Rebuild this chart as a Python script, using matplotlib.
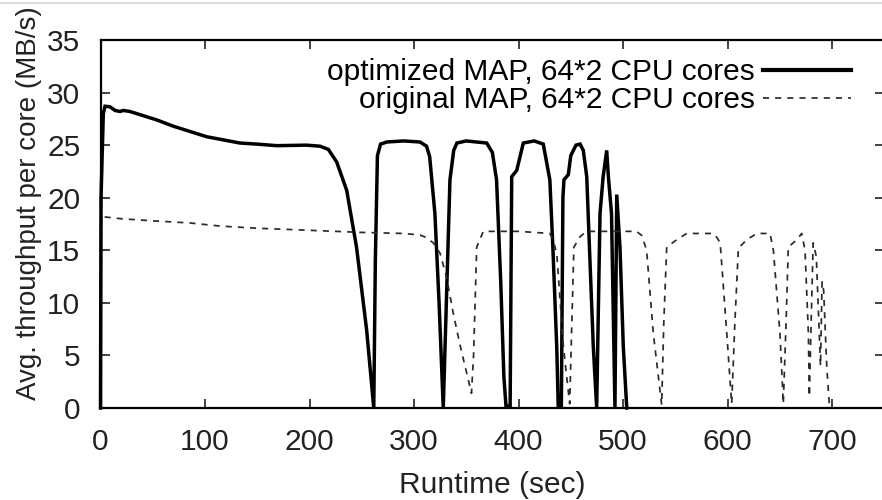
import matplotlib
matplotlib.use("Agg")
import matplotlib.pyplot as plt
from matplotlib.lines import Line2D

plt.rcParams['font.family'] = ['Liberation Sans', 'DejaVu Sans']

# optimized MAP (solid)
opt_t = [0, 0.5, 2.7, 4.3, 9, 13.9, 18.7, 21.8, 28.2, 37.8, 53.8, 69.7, 85.6,
         101.6, 117.5, 133.5, 149.5, 168.6, 197, 210, 218, 226, 235.6, 245,
         254.7, 261.5,
         263, 265, 268, 274, 290, 305.7, 312, 315, 320, 324, 328,
         334.4, 338, 341, 350, 369.6, 375, 379, 383, 386, 388, 392,
         393.5, 398.3, 404.6, 415, 423.7, 430, 433, 436.6, 438, 441,
         442.5, 443.5, 447.7, 450, 455, 459, 462, 465.3, 468, 471.6, 474.8,
         478, 481, 484.4, 486, 489, 492.3,
         494, 497.1, 500.3, 503.6]
opt_v = [0, 20, 28.0, 28.7, 28.65, 28.3, 28.2, 28.3, 28.2, 27.9, 27.4, 26.8, 26.3,
         25.8, 25.5, 25.2, 25.1, 24.95, 25.0, 24.9, 24.6, 23.4, 20.7, 15.3,
         7.4, 0,
         14, 24, 25.1, 25.3, 25.4, 25.3, 24.9, 23.9, 18.5, 10, 0,
         21.7, 24.5, 25.2, 25.4, 25.2, 24.3, 21.7, 12, 3, 0.2, 0.2,
         22, 22.6, 25.2, 25.4, 25.1, 21.7, 15, 5.8, 0.2, 0.2,
         20, 21.7, 22.2, 24, 25, 25.1, 24.5, 22, 15, 5.8, 0,
         18.5, 22, 24.5, 22, 18.5, 0,
         20.3, 15.3, 5.8, 0]

# original MAP (dashed)
orig_t = [0, 1, 20, 50, 85.6, 114.5, 150, 200, 250, 290, 305.8, 312, 318.5,
          325, 331, 337.6, 344, 350, 355, 357, 360, 366.3, 400, 430, 433,
          436.6, 440, 443, 449, 451, 453, 459, 465, 513, 518, 522.6, 529,
          537, 539, 541.8, 551.4, 561, 586.4, 590, 593, 599.3, 604, 607,
          610.4, 618.4, 628, 640.7, 643.9, 650.2, 653.4, 656, 658.2, 666.2,
          671, 674.2, 677.4, 678.3, 680, 682, 685, 689, 690.5, 692, 695, 697.4]
orig_v = [0, 18.2, 18.0, 17.8, 17.6, 17.3, 17.1, 16.9, 16.7, 16.6, 16.45, 16.2, 15.7,
          14.7, 12.5, 9, 6, 3.5, 1.4, 5, 15.3, 16.8, 16.8, 16.6, 16.0,
          14.7, 10, 5.8, 0.4, 8, 15.3, 16.3, 16.8, 16.8, 16.4, 15, 7.1,
          0.3, 8, 15.3, 16, 16.6, 16.6, 16.2, 15.7, 7.1, 0.4, 8,
          15.2, 16, 16.6, 16.6, 15, 7.1, 0.4, 8, 15.3, 16,
          16.6, 15, 7.1, 1.1, 8, 15.7, 14.4, 4, 12, 11.2, 3.9, 0.4]

labels = ["optimized MAP, 64*2 CPU cores", "original MAP, 64*2 CPU cores"]

fig = plt.figure(figsize=(8.82, 5), dpi=100)
ax = fig.add_axes([100.5 / 882, 92 / 500, 783.75 / 882, 368 / 500])

ax.plot(opt_t, opt_v, color='black', lw=2.5, solid_joinstyle='miter',
        clip_on=False, label=labels[0])
ax.plot(orig_t, orig_v, color='#2a2a2a', lw=1.25, dashes=(3.5, 3.5),
        label=labels[1])

ax.set_xlim(0, 750)
ax.set_ylim(0, 35)
ax.set_xticks(range(0, 701, 100))
ax.set_yticks(range(0, 36, 5))
ax.tick_params(direction='in', length=6.5, width=1.2, top=True, right=True,
               labelsize=21.5, pad=14.5, colors='#222222')
for s in ax.spines.values():
    s.set_linewidth(1.6)

ax.set_xlabel("Runtime (sec)", fontsize=21.5, color='#222222')
ax.set_ylabel("Avg. throughput per core (MB/s)", fontsize=20, color='#222222')
ax.xaxis.set_label_coords(0.5, -0.171)
ax.yaxis.set_label_coords(-0.0746, 0.556)

leg = ax.legend(loc='upper right', frameon=False, fontsize=21.5, markerfirst=False,
                handlelength=2.95, handletextpad=0.27, labelspacing=0.0,
                borderpad=0, borderaxespad=0, bbox_to_anchor=(0.958, 0.951))
leg.get_lines()[0].set_linewidth(3)

fig.add_artist(Line2D([0, 1], [0.994, 0.994], color='#dddddd', lw=1.5))

fig.savefig("out.png", dpi=100)
